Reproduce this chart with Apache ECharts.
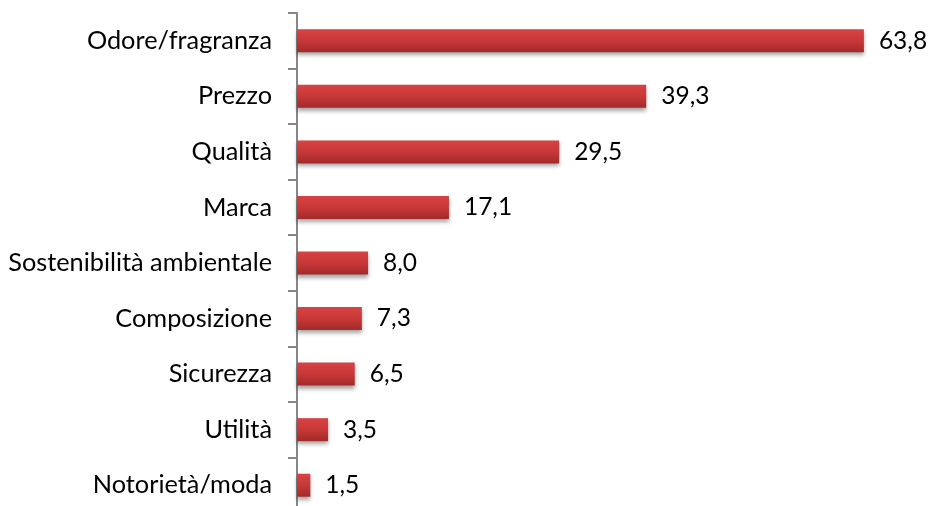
<!DOCTYPE html>
<html>
<head>
<meta charset="utf-8">
<script src="https://cdn.jsdelivr.net/npm/echarts@6/dist/echarts.min.js"></script>
<style>
html, body { margin: 0; padding: 0; background: #fff; }
#chart { width: 931px; height: 506px; }
</style>
</head>
<body>
<div id="chart"></div>
<script>
const categories = ['Odore/fragranza', 'Prezzo', 'Qualità', 'Marca', 'Sostenibilità ambientale',
    'Composizione', 'Sicurezza', 'Utilità', 'Notorietà/moda']
const values = [63.8, 39.3, 29.5, 17.1, 8.0, 7.3, 6.5, 3.5, 1.5]

const font = 'Lato, "Open Sans", sans-serif'
const chart = echarts.init(document.getElementById('chart'))
const option = {
    backgroundColor: '#fff',
    animation: false,
    grid: {
        left: 297,
        top: 13,
        width: 622,
        height: 500,
        outerBoundsMode: 'none'
    },
    xAxis: {
        type: 'value',
        min: 0,
        max: 70,
        show: false
    },
    yAxis: {
        type: 'category',
        inverse: true,
        data: categories,
        axisLine: { lineStyle: { color: '#868686', width: 2 } },
        axisTick: { show: true, interval: 0, length: 9, lineStyle: { color: '#868686', width: 2 } },
        axisLabel: { color: '#000', fontSize: 25.3, fontFamily: font, margin: 25 }
    },
    series: [{
        type: 'bar',
        data: values,
        barWidth: 23,
        itemStyle: {
            color: new echarts.graphic.LinearGradient(0, 0, 0, 1, [
                { offset: 0, color: '#d84242' },
                { offset: 0.5, color: '#c83838' },
                { offset: 1, color: '#a22a2a' }
            ]),
            shadowColor: 'rgba(0,0,0,0.35)',
            shadowBlur: 4,
            shadowOffsetY: 3
        },
        label: {
            show: true,
            position: 'right',
            distance: 15,
            color: '#000',
            fontSize: 24.5,
            fontFamily: font,
            formatter: p => p.value.toFixed(1).replace('.', ',')
        }
    }]
}
chart.setOption(option)
</script>
</body>
</html>
